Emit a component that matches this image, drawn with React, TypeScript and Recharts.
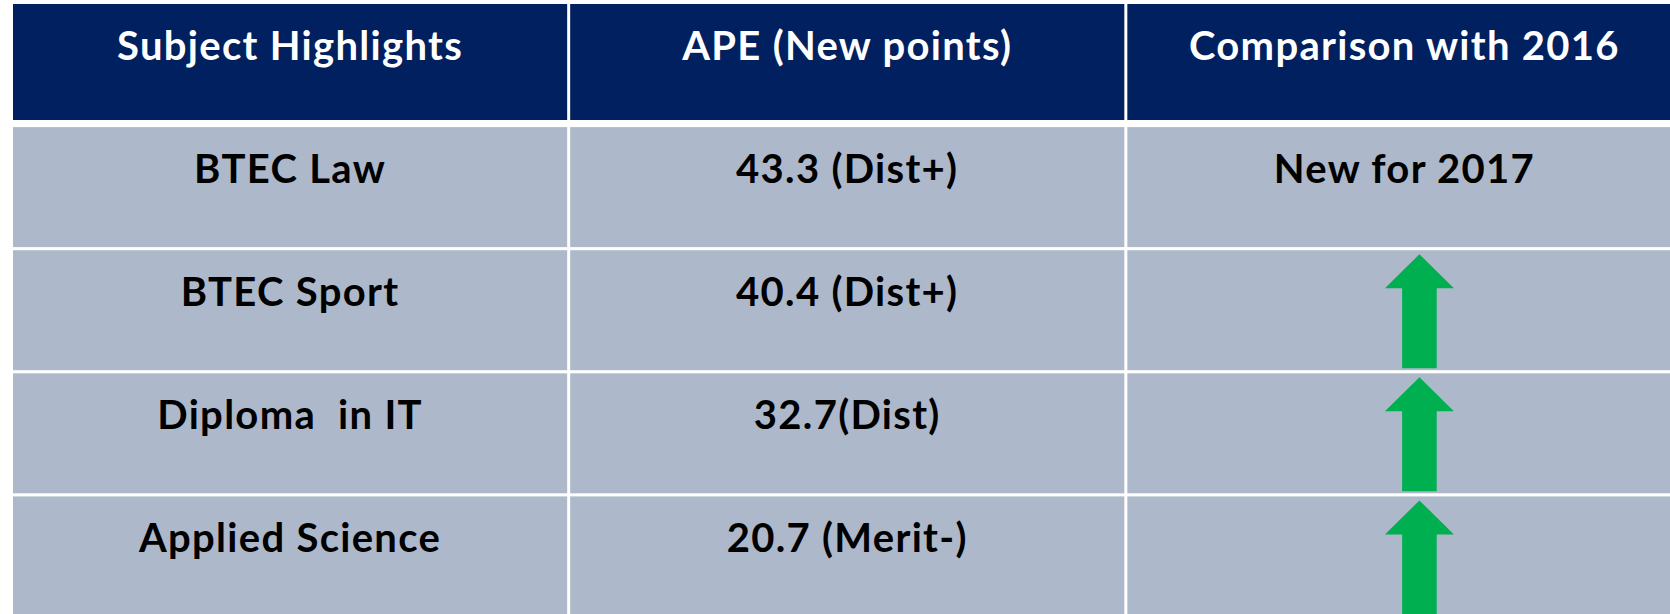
import { BarChart, Bar, XAxis, YAxis } from "recharts";

const headers = ["Subject Highlights", "APE (New points)", "Comparison with 2016"];
const subjects = ["BTEC Law", "BTEC Sport", "Diploma  in IT", "Applied Science"];
const apeScores = ["43.3 (Dist+)", "40.4 (Dist+)", "32.7(Dist)", "20.7 (Merit-)"];
// "up" means an improvement arrow instead of text
const comparisons = ["New for 2017", "up", "up", "up"];

const NAVY = "#002060";
const CELL_BG = "#ADB9CA";
const GREEN = "#00B050";
const FONT = "Lato, 'Open Sans', sans-serif";

type Row = { key: string; cells: string[]; header: boolean; c1: number; c2: number; c3: number };

const rows: Row[] = [
  { key: "header", cells: headers, header: true, c1: 1, c2: 1, c3: 1 },
  ...subjects.map((s, i) => ({
    key: s,
    cells: [s, apeScores[i], comparisons[i]],
    header: false,
    c1: 1,
    c2: 1,
    c3: 1,
  })),
];

function UpArrow({ cx, top }: { cx: number; top: number }) {
  const tip = top + 4;
  const base = top + 38;
  const bottom = top + 118;
  const head = 34.5;
  const shaft = 17.3;
  const pts = [
    [cx, tip],
    [cx + head, base],
    [cx + shaft, base],
    [cx + shaft, bottom],
    [cx - shaft, bottom],
    [cx - shaft, base],
    [cx - head, base],
  ]
    .map((p) => p.join(","))
    .join(" ");
  return <polygon points={pts} fill={GREEN} />;
}

const cellShape = (col: number) => (props: any) => {
  const { x, y, width, height, index } = props;
  const row = rows[index];
  const left = x + 1.5;
  const top = y + 1.5;
  const w = width - 3;
  const h = height - 3 - (row.header ? 4 : 0);
  const text = row.cells[col];
  const cx = left + w / 2;
  return (
    <g>
      <rect x={left} y={top} width={w} height={h} fill={row.header ? NAVY : CELL_BG} />
      {text === "up" ? (
        <UpArrow cx={cx + 15} top={top} />
      ) : (
        <text
          x={cx}
          y={top + 56}
          textAnchor="middle"
          fill={row.header ? "#ffffff" : "#000000"}
          fontFamily={FONT}
          fontWeight={700}
          fontSize={40}
          letterSpacing={1.3}
          style={{ whiteSpace: "pre" }}
        >
          {text}
        </text>
      )}
    </g>
  );
};

export default function App() {
  return (
    <div
      style={{
        position: "fixed",
        left: 0,
        top: 0,
        width: 1670,
        height: 614,
        overflow: "hidden",
        background: "#ffffff",
      }}
    >
      <BarChart
        layout="vertical"
        data={rows}
        width={1683}
        height={618}
        margin={{ top: 2.5, left: 11.5, right: 0, bottom: 0 }}
        barCategoryGap={0}
      >
        <XAxis type="number" domain={[0, 3]} hide />
        <YAxis type="category" dataKey="key" hide />
        <Bar dataKey="c1" stackId="t" shape={cellShape(0)} isAnimationActive={false} />
        <Bar dataKey="c2" stackId="t" shape={cellShape(1)} isAnimationActive={false} />
        <Bar dataKey="c3" stackId="t" shape={cellShape(2)} isAnimationActive={false} />
      </BarChart>
    </div>
  );
}
